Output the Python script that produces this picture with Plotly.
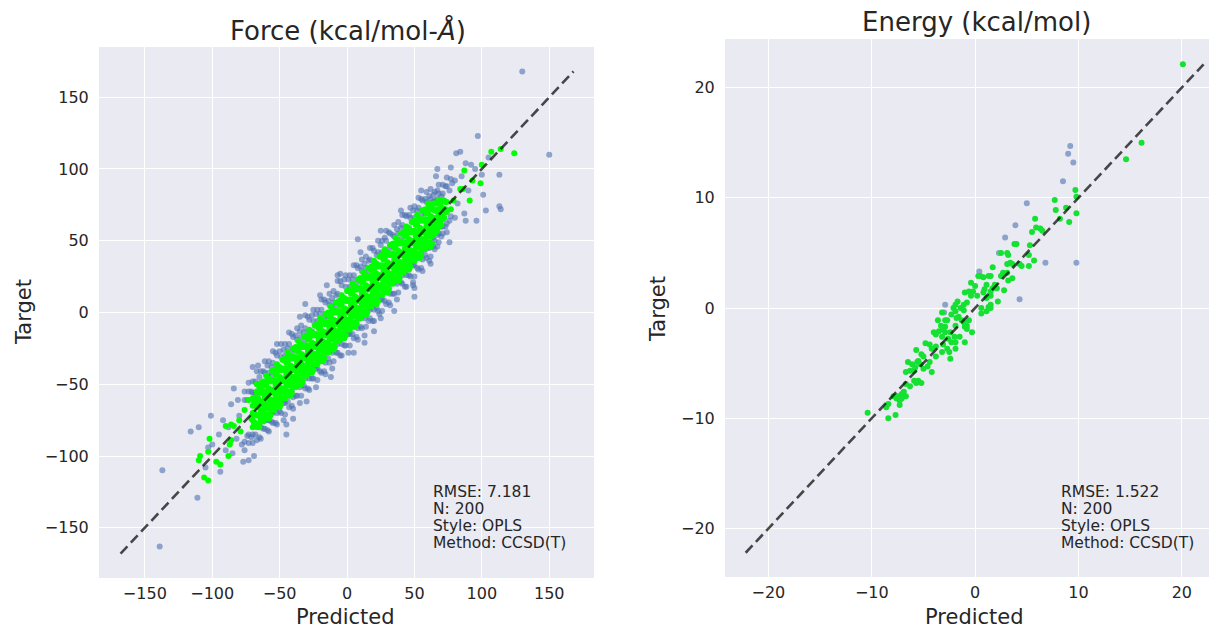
import plotly.graph_objects as go

# ---------------- Force panel data: (predicted, target) ----------------
force_blue = [
    (-76,-61),(-76,-55),(-76,-90),(-76,-96),(-73,-55),(-73,-49),(-73,-85),(-73,-91),
    (-70,-56),(-70,-48),(-70,-85),(-70,-91),(-67,-50),(-67,-41),(-67,-80),(-67,-89),
    (-64,-49),(-64,-41),(-64,-80),(-64,-88),(-61,-42),(-61,-34),(-61,-75),(-61,-81),
    (-58,-42),(-58,-34),(-58,-75),(-58,-83),(-55,-35),(-55,-27),(-55,-70),(-55,-77),
    (-52,-37),(-52,-30),(-52,-70),(-52,-78),(-49,-31),(-49,-22),(-49,-63),(-49,-70),
    (-46,-30),(-46,-22),(-46,-63),(-46,-71),(-43,-22),(-43,-14),(-43,-58),(-43,-66),
    (-40,-25),(-40,-17),(-40,-59),(-40,-67),(-37,-19),(-37,-11),(-37,-51),(-37,-58),
    (-34,-17),(-34,-9),(-34,-50),(-34,-58),(-31,-11),(-31,-2),(-31,-46),(-31,-53),
    (-28,-13),(-28,-5),(-28,-46),(-28,-54),(-25,-6),(-25,2),(-25,-39),(-25,-46),
    (-22,-6),(-22,2),(-22,-39),(-22,-47),(-19,2),(-19,9),(-19,-34),(-19,-42),
    (-16,-1),(-16,7),(-16,-35),(-16,-43),(-13,5),(-13,13),(-13,-27),(-13,-35),
    (-10,7),(-10,15),(-10,-26),(-10,-34),(-7,13),(-7,22),(-7,-22),(-7,-28),
    (-4,11),(-4,19),(-4,-22),(-4,-30),(-1,18),(-1,26),(-1,-15),(-1,-23),
    (2,18),(2,26),(2,-15),(2,-23),(5,26),(5,33),(5,-10),(5,-18),
    (8,23),(8,31),(8,-11),(8,-19),(11,29),(11,37),(11,-3),(11,-11),
    (14,31),(14,39),(14,-2),(14,-10),(17,37),(17,45),(17,2),(17,-4),
    (20,35),(20,43),(20,2),(20,-6),(23,42),(23,50),(23,9),(23,1),
    (26,42),(26,50),(26,9),(26,1),(29,50),(29,57),(29,14),(29,6),
    (32,47),(32,55),(32,13),(32,5),(35,53),(35,61),(35,21),(35,13),
    (38,55),(38,63),(38,22),(38,14),(41,61),(41,68),(41,26),(41,20),
    (44,59),(44,67),(44,26),(44,18),(47,66),(47,73),(47,33),(47,25),
    (50,66),(50,74),(50,33),(50,25),(53,73),(53,80),(53,38),(53,30),
    (56,71),(56,78),(56,37),(56,29),(59,77),(59,84),(59,45),(59,38),
    (62,79),(62,86),(62,46),(62,39),(65,84),(65,78),(65,50),(65,44),
    (68,83),(68,89),(68,55),(68,49),(71,89),(71,83),(71,55),(71,60),
    (74,88),(74,94),(74,62),(74,56),(77,93),(77,67),(80,92),(80,66),
    (-74,-61),(-74,-86),(-68,-57),(-68,-48),(-68,-79),(-68,-85),
    (-62,-49),(-62,-41),(-62,-74),(-62,-81),(-56,-44),(-56,-38),(-56,-69),(-56,-76),
    (-50,-39),(-50,-27),(-50,-61),(-50,-69),(-44,-31),(-44,-25),(-44,-56),(-44,-62),
    (-38,-26),(-38,-16),(-38,-51),(-38,-58),(-32,-21),(-32,-14),(-32,-43),(-32,-51),
    (-26,-13),(-26,-2),(-26,-38),(-26,-46),(-20,-8),(-20,-1),(-20,-33),(-20,-41),
    (-14,-3),(-14,8),(-14,-25),(-14,-32),(-8,5),(-8,12),(-8,-20),(-8,-28),
    (-2,10),(-2,23),(-2,-15),(-2,-23),(4,15),(4,23),(4,-7),(4,-15),
    (10,23),(10,32),(10,-2),(10,-10),(16,28),(16,36),(16,3),(16,-6),
    (22,33),(22,40),(22,11),(22,3),(28,41),(28,52),(28,16),(28,8),
    (34,46),(34,54),(34,21),(34,13),(40,51),(40,59),(40,29),(40,21),
    (46,59),(46,68),(46,34),(46,26),(52,64),(52,71),(52,39),(52,31),
    (58,69),(58,79),(58,47),(58,40),(64,77),(64,82),(64,52),(64,46),
    (70,81),(70,60),(70,53),(76,85),(76,64),
    (-71,-55),(-71,-87),(-65,-45),(-65,-52),(-65,-79),(-65,-87),
    (-59,-37),(-59,-45),(-59,-75),(-59,-82),(-53,-28),(-53,-40),(-53,-67),(-53,-77),
    (-47,-26),(-47,-33),(-47,-63),(-47,-75),(-41,-15),(-41,-28),(-41,-55),(-41,-65),
    (-35,-13),(-35,-21),(-35,-52),(-35,-63),(-29,-3),(-29,-16),(-29,-43),(-29,-53),
    (-23,-1),(-23,-9),(-23,-39),(-23,-52),(-17,9),(-17,-4),(-17,-31),(-17,-41),
    (-11,10),(-11,3),(-11,-28),(-11,-39),(-5,22),(-5,8),(-5,-19),(-5,-30),
    (1,23),(1,15),(1,-15),(1,-28),(7,33),(7,20),(7,-7),(7,-17),
    (13,34),(13,27),(13,-4),(13,-16),(19,45),(19,32),(19,5),(19,-6),
    (25,47),(25,39),(25,9),(25,-4),(31,56),(31,44),(31,17),(31,7),
    (37,58),(37,51),(37,20),(37,9),(43,68),(43,56),(43,29),(43,18),
    (49,71),(49,63),(49,33),(49,21),(55,79),(55,68),(55,41),(55,31),
    (61,81),(61,74),(61,45),(61,36),(67,85),(67,79),(67,54),(67,46),
    (73,88),(73,60),
    (-52,-22),(-35,-3),(-20,12),(-5,27),(10,42),(25,57),(40,71),(55,85),
    (-30,-62),(-12,-45),(5,-28),(20,-13),(35,1),(50,17),(62,34),(-45,-78),
    (130,168),(150,110),(97,123),(113,96),(113,74),(114,72),(103,71),(101,82),
    (96,64),(87,69),(88,64),(76,49),(92,103),(81,111),(84,112),(67,100),
    (77,101),(66,95),(-139,-163),(-137,-110),(-111,-129),(-116,-83),(-110,-80),
    (-103,-94),(-101,-72),(-94,-111),(-84,-53),(-81,-61),(-86,-64),(-77,-104),
    (-73,-103),(-69,-100),(-45,-85),(-40,-74),(-70,-38),(-66,-37),(8,51),
    (-7,26),(-15,19),(-31,6),(50,11),(49,19),(24,-1),(13,-21),
    (-100,-92),(-95,-85),(-90,-96),(-88,-80),(-82,-88),(-80,-72),(-78,-92),
    (85,95),(90,85),(95,100),(88,104),(82,76),(100,96),(105,108),(78,90),
    (-105,-108),(-92,-75),(-85,-98),
]

force_green = [
    (-70,-80),(-70,-75),(-70,-70),(-70,-65),(-70,-60),(-68,-77),(-68,-71),(-68,-65),(-68,-59),
    (-66,-78),(-66,-72),(-66,-66),(-66,-60),(-66,-55),(-64,-75),(-64,-68),(-64,-62),(-64,-56),(-64,-51),
    (-62,-76),(-62,-69),(-62,-62),(-62,-55),(-62,-48),(-60,-71),(-60,-64),(-60,-57),(-60,-50),(-60,-44),
    (-58,-74),(-58,-67),(-58,-60),(-58,-53),(-58,-46),(-56,-68),(-56,-61),(-56,-54),(-56,-47),(-56,-41),
    (-54,-68),(-54,-61),(-54,-54),(-54,-47),(-54,-40),(-52,-63),(-52,-56),(-52,-49),(-52,-42),(-52,-36),
    (-50,-66),(-50,-59),(-50,-52),(-50,-45),(-50,-38),(-48,-60),(-48,-53),(-48,-46),(-48,-39),(-48,-33),
    (-46,-60),(-46,-53),(-46,-46),(-46,-39),(-46,-32),(-44,-55),(-44,-48),(-44,-41),(-44,-34),(-44,-28),
    (-42,-58),(-42,-51),(-42,-44),(-42,-37),(-42,-30),(-40,-52),(-40,-45),(-40,-38),(-40,-31),(-40,-25),
    (-38,-52),(-38,-45),(-38,-38),(-38,-31),(-38,-24),(-36,-47),(-36,-40),(-36,-33),(-36,-26),(-36,-20),
    (-34,-50),(-34,-43),(-34,-36),(-34,-29),(-34,-22),(-32,-44),(-32,-37),(-32,-30),(-32,-23),(-32,-17),
    (-30,-44),(-30,-37),(-30,-30),(-30,-23),(-30,-16),(-28,-39),(-28,-32),(-28,-25),(-28,-18),(-28,-12),
    (-26,-42),(-26,-35),(-26,-28),(-26,-21),(-26,-14),(-24,-36),(-24,-29),(-24,-22),(-24,-15),(-24,-9),
    (-22,-36),(-22,-29),(-22,-22),(-22,-15),(-22,-8),(-20,-31),(-20,-24),(-20,-17),(-20,-10),(-20,-4),
    (-18,-34),(-18,-27),(-18,-20),(-18,-13),(-18,-6),(-16,-28),(-16,-21),(-16,-14),(-16,-7),(-16,-1),
    (-14,-28),(-14,-21),(-14,-14),(-14,-7),(-14,0),(-12,-23),(-12,-16),(-12,-9),(-12,-2),(-12,4),
    (-10,-26),(-10,-19),(-10,-12),(-10,-5),(-10,2),(-8,-20),(-8,-13),(-8,-6),(-8,1),(-8,7),
    (-6,-20),(-6,-13),(-6,-6),(-6,1),(-6,8),(-4,-15),(-4,-8),(-4,-1),(-4,6),(-4,12),
    (-2,-18),(-2,-11),(-2,-4),(-2,3),(-2,10),(0,-12),(0,-5),(0,2),(0,9),(0,15),
    (2,-12),(2,-5),(2,2),(2,9),(2,16),(4,-7),(4,0),(4,7),(4,14),(4,20),
    (6,-10),(6,-3),(6,4),(6,11),(6,18),(8,-4),(8,3),(8,10),(8,17),(8,23),
    (10,-4),(10,3),(10,10),(10,17),(10,24),(12,1),(12,8),(12,15),(12,22),(12,28),
    (14,-2),(14,5),(14,12),(14,19),(14,26),(16,4),(16,11),(16,18),(16,25),(16,31),
    (18,4),(18,11),(18,18),(18,25),(18,32),(20,9),(20,16),(20,23),(20,30),(20,36),
    (22,6),(22,13),(22,20),(22,27),(22,34),(24,12),(24,19),(24,26),(24,33),(24,39),
    (26,12),(26,19),(26,26),(26,33),(26,40),(28,17),(28,24),(28,31),(28,38),(28,44),
    (30,14),(30,21),(30,28),(30,35),(30,42),(32,20),(32,27),(32,34),(32,41),(32,47),
    (34,20),(34,27),(34,34),(34,41),(34,48),(36,25),(36,32),(36,39),(36,46),(36,52),
    (38,22),(38,29),(38,36),(38,43),(38,50),(40,28),(40,35),(40,42),(40,49),(40,55),
    (42,28),(42,35),(42,42),(42,49),(42,56),(44,33),(44,40),(44,47),(44,54),(44,60),
    (46,30),(46,37),(46,44),(46,51),(46,58),(48,36),(48,43),(48,50),(48,57),(48,63),
    (50,36),(50,43),(50,50),(50,57),(50,64),(52,41),(52,48),(52,55),(52,62),(52,68),
    (54,38),(54,45),(54,52),(54,59),(54,66),(56,44),(56,51),(56,58),(56,65),(56,71),
    (58,44),(58,51),(58,58),(58,65),(58,72),(60,49),(60,56),(60,63),(60,70),(60,76),
    (62,46),(62,53),(62,60),(62,67),(62,74),(64,54),(64,60),(64,66),(64,72),(64,76),
    (66,56),(66,61),(66,66),(66,71),(66,76),(68,60),(68,66),(68,72),(68,78),
    (70,61),(70,67),(70,73),(70,78),(72,66),(72,72),(72,78),(74,70),(74,77),
    (-69,-77),(-69,-70),(-69,-63),(-67,-79),(-67,-71),(-67,-63),(-67,-55),
    (-65,-80),(-65,-72),(-65,-64),(-65,-56),(-63,-72),(-63,-64),(-63,-56),(-63,-49),
    (-61,-74),(-61,-67),(-61,-59),(-61,-51),(-59,-71),(-59,-63),(-59,-55),(-59,-47),
    (-57,-72),(-57,-64),(-57,-56),(-57,-48),(-55,-64),(-55,-56),(-55,-48),(-55,-41),
    (-53,-66),(-53,-59),(-53,-51),(-53,-43),(-51,-63),(-51,-55),(-51,-47),(-51,-39),
    (-49,-64),(-49,-56),(-49,-48),(-49,-40),(-47,-56),(-47,-48),(-47,-40),(-47,-33),
    (-45,-58),(-45,-51),(-45,-43),(-45,-35),(-43,-55),(-43,-47),(-43,-39),(-43,-31),
    (-41,-56),(-41,-48),(-41,-40),(-41,-32),(-39,-48),(-39,-40),(-39,-32),(-39,-25),
    (-37,-50),(-37,-43),(-37,-35),(-37,-27),(-35,-47),(-35,-39),(-35,-31),(-35,-23),
    (-33,-48),(-33,-40),(-33,-32),(-33,-24),(-31,-40),(-31,-32),(-31,-24),(-31,-17),
    (-29,-42),(-29,-35),(-29,-27),(-29,-19),(-27,-39),(-27,-31),(-27,-23),(-27,-15),
    (-25,-40),(-25,-32),(-25,-24),(-25,-16),(-23,-32),(-23,-24),(-23,-16),(-23,-9),
    (-21,-34),(-21,-27),(-21,-19),(-21,-11),(-19,-31),(-19,-23),(-19,-15),(-19,-7),
    (-17,-32),(-17,-24),(-17,-16),(-17,-8),(-15,-24),(-15,-16),(-15,-8),(-15,-1),
    (-13,-26),(-13,-19),(-13,-11),(-13,-3),(-11,-23),(-11,-15),(-11,-7),(-11,1),
    (-9,-24),(-9,-16),(-9,-8),(-9,0),(-7,-16),(-7,-8),(-7,0),(-7,7),
    (-5,-18),(-5,-11),(-5,-3),(-5,5),(-3,-15),(-3,-7),(-3,1),(-3,9),
    (-1,-16),(-1,-8),(-1,0),(-1,8),(1,-8),(1,0),(1,8),(1,15),
    (3,-10),(3,-3),(3,5),(3,13),(5,-7),(5,1),(5,9),(5,17),
    (7,-8),(7,0),(7,8),(7,16),(9,0),(9,8),(9,16),(9,23),
    (11,-2),(11,5),(11,13),(11,21),(13,1),(13,9),(13,17),(13,25),
    (15,0),(15,8),(15,16),(15,24),(17,8),(17,16),(17,24),(17,31),
    (19,6),(19,13),(19,21),(19,29),(21,9),(21,17),(21,25),(21,33),
    (23,8),(23,16),(23,24),(23,32),(25,16),(25,24),(25,32),(25,39),
    (27,14),(27,21),(27,29),(27,37),(29,17),(29,25),(29,33),(29,41),
    (31,16),(31,24),(31,32),(31,40),(33,24),(33,32),(33,40),(33,47),
    (35,22),(35,29),(35,37),(35,45),(37,25),(37,33),(37,41),(37,49),
    (39,24),(39,32),(39,40),(39,48),(41,32),(41,40),(41,48),(41,55),
    (43,30),(43,37),(43,45),(43,53),(45,33),(45,41),(45,49),(45,57),
    (47,32),(47,40),(47,48),(47,56),(49,40),(49,48),(49,56),(49,63),
    (51,38),(51,45),(51,53),(51,61),(53,41),(53,49),(53,57),(53,65),
    (55,40),(55,48),(55,56),(55,64),(57,48),(57,56),(57,64),(57,71),
    (59,46),(59,53),(59,61),(59,69),(61,49),(61,57),(61,65),(61,73),
    (63,48),(63,56),(63,64),(63,72),(65,57),(65,64),(65,71),(65,76),
    (67,58),(67,64),(67,70),(67,76),(69,62),(69,69),(69,76),
    (71,65),(71,72),(71,78),(73,70),(73,77),
    (124,111),(114,114),(107,112),(100,103),(93,92),(99,90),(87,99),(84,86),(86,86),
    (79,78),(91,78),(77,72),(73,72),(69,76),
    (-106,-115),(-103,-117),(-109,-100),(-110,-103),(-103,-97),(-102,-88),(-97,-104),
    (-94,-106),(-87,-92),(-86,-89),(-88,-100),(-84,-79),(-80,-75),(-90,-79),(-86,-78),
    (-79,-83),(-76,-68),(-73,-61),(-71,-74),(-69,-71),(-67,-50),(-64,-54),
]
force_line = [-168, 168]

# ---------------- Energy panel data: (predicted, target) ----------------
energy_blue = [
    (9.2,14.7),(9.0,14.0),(9.5,13.2),(8.5,11.5),(5.0,9.5),(3.9,7.5),(2.9,6.4),
    (2.3,5.0),(6.8,4.1),(9.8,4.1),(4.3,0.8),(0.4,3.3),(-2.9,0.3),(-3.0,-0.4),
]
energy_green = [
    (20.1,22.1),(16.1,15.0),(14.6,13.5),(9.7,10.7),(9.8,10.1),(7.7,9.8),(7.8,8.9),
    (8.8,9.1),(9.8,8.6),(8.2,8.1),(9.1,7.8),(5.8,8.1),(5.5,6.9),(5.9,7.3),(6.3,7.2),
    (6.5,7.0),(5.3,5.7),(3.8,5.8),(4.0,5.8),(5.2,4.8),(5.7,4.3),(5.2,3.8),(4.3,4.0),
    (4.5,3.8),(2.5,5.0),(3.1,5.0),(3.2,4.8),(3.4,4.1),(3.1,4.0),(3.6,4.0),(2.7,3.2),
    (2.5,2.9),(3.1,3.2),(3.6,2.7),(3.2,2.5),(1.7,3.7),(1.3,2.9),(1.5,2.9),(0.8,2.8),
    (0.3,2.9),(0.5,2.9),(1.1,2.1),(0.9,1.7),(1.7,1.8),(1.5,1.5),(2.8,1.6),(2.2,0.6),
    (1.3,0.1),(1.5,0.0),(1.1,-0.3),(0.6,-0.5),(-0.4,2.3),(0.0,2.0),(-0.2,1.5),(0.2,1.1),
    (-1.0,1.4),(-0.6,1.5),(-0.4,1.1),(-1.7,0.6),(-0.8,0.5),(-1.1,0.3),(-0.3,-2.2),
    (-1.0,-3.1),(-2.1,0.0),(-1.9,-0.3),(-1.6,-0.8),(-1.8,-0.9),(-1.3,-1.1),(-1.1,-1.3),
    (-1.0,-1.7),(-0.8,-1.9),(-2.3,-0.6),(-1.9,-1.6),(-2.9,-1.1),(-2.7,-1.1),(-3.2,-0.4),
    (-2.9,-1.7),(-3.1,-1.9),(-3.5,-2.1),(-3.2,-2.6),(-3.8,-2.4),(-4.0,-2.2),(-2.9,-2.2),
    (-2.4,-2.2),(-2.6,-2.8),(-2.3,-3.1),(-1.9,-3.1),(-2.0,-2.6),(-3.1,-3.3),(-2.7,-3.7),
    (-2.5,-4.0),(-2.4,-4.6),(-3.2,-4.0),(-4.4,-3.3),(-4.2,-3.7),(-3.8,-3.5),(-4.8,-3.2),
    (-3.8,-4.4),(-5.2,-4.2),(-5.0,-4.4),(-5.7,-3.8),(-5.5,-4.8),(-5.6,-4.9),(-5.3,-5.1),
    (-5.0,-5.5),(-4.6,-5.3),(-4.4,-4.9),(-4.2,-5.8),(-6.5,-4.9),(-6.1,-5.1),(-6.7,-5.8),
    (-6.3,-5.7),(-5.9,-6.6),(-5.5,-6.6),(-5.2,-6.8),(-5.7,-6.8),(-6.7,-6.9),(-5.9,-5.7),
    (-5.8,-5.4),(-7.1,-7.8),(-6.9,-7.6),(-7.4,-8.0),(-7.6,-8.2),(-7.3,-8.4),(-7.1,-8.2),
    (-6.7,-8.0),(-7.3,-8.8),(-6.3,-7.1),(-8.6,-9.0),(-8.4,-8.7),(-8.4,-10.0),(-7.7,-9.7),
    (-10.4,-9.5),(-7.9,-8.0),(0.8,1.4),(1.5,1.1),(2.1,1.8),(1.9,2.1),(1.1,0.9),(1.5,0.3),
    (0.6,0.0),(-1.4,0.0),(-1.1,-0.2),(-1.9,0.3),(-0.6,-1.1),(-0.8,-1.6),(-1.5,-2.6),
    (-1.9,-3.7),(-3.6,-1.1),(-3.3,-1.6),
]
energy_line = [-22.2, 22.1]

force_ticks = [-150, -100, -50, 0, 50, 100, 150]
energy_ticks = [-20, -10, 0, 10, 20]
force_stats = ["RMSE: 7.181", "N: 200", "Style: OPLS", "Method: CCSD(T)"]
energy_stats = ["RMSE: 1.522", "N: 200", "Style: OPLS", "Method: CCSD(T)"]

FONT = "DejaVu Sans"
TXT = "#262626"
BLUE = "#4C72B0"
GREEN_F = "#00FF00"
GREEN_E = "#14E132"

# The page body has an 8px margin, so the figure is sized to fill the rest of the window.
OFF = 8
W, H = 1217 - OFF, 630 - OFF

def px(x):
    return (x - OFF) / W

def py(y):
    return 1 - (y - OFF) / H

fig = go.Figure()

def xs(pts):
    return [p[0] for p in pts]

def ys(pts):
    return [p[1] for p in pts]

# Force panel
fig.add_trace(go.Scatter(x=xs(force_blue), y=ys(force_blue), mode="markers",
                         marker=dict(color=BLUE, size=6, opacity=0.6, line=dict(width=0)),
                         xaxis="x", yaxis="y", showlegend=False, hoverinfo="skip"))
fig.add_trace(go.Scatter(x=xs(force_green), y=ys(force_green), mode="markers",
                         marker=dict(color=GREEN_F, size=6, opacity=1.0, line=dict(width=0)),
                         xaxis="x", yaxis="y", showlegend=False, hoverinfo="skip"))
fig.add_trace(go.Scatter(x=force_line, y=force_line, mode="lines",
                         line=dict(color="rgba(0,0,0,0.7)", width=2.6, dash="10px,5px"),
                         xaxis="x", yaxis="y", showlegend=False, hoverinfo="skip"))

# Energy panel
fig.add_trace(go.Scatter(x=xs(energy_blue), y=ys(energy_blue), mode="markers",
                         marker=dict(color=BLUE, size=6, opacity=0.6, line=dict(width=0)),
                         xaxis="x2", yaxis="y2", showlegend=False, hoverinfo="skip"))
fig.add_trace(go.Scatter(x=xs(energy_green), y=ys(energy_green), mode="markers",
                         marker=dict(color=GREEN_E, size=6, opacity=1.0, line=dict(width=0)),
                         xaxis="x2", yaxis="y2", showlegend=False, hoverinfo="skip"))
fig.add_trace(go.Scatter(x=energy_line, y=energy_line, mode="lines",
                         line=dict(color="rgba(0,0,0,0.7)", width=2.6, dash="10px,5px"),
                         xaxis="x2", yaxis="y2", showlegend=False, hoverinfo="skip"))

# plot-area edges in window pixels
L_x0, L_x1, L_top, L_bot = 99, 594, 47, 578
R_x0, R_x1, R_top, R_bot = 725, 1217, 39, 577

base = dict(showgrid=True, gridcolor="white", gridwidth=1.3, zeroline=False,
            showline=False, ticks="outside", tickcolor="rgba(0,0,0,0)",
            tickfont=dict(family=FONT, size=16, color=TXT))
xax = dict(base, ticklen=1)
yax = dict(base, ticklen=6)

fig.update_layout(
    width=W, height=H,
    margin=dict(l=0, r=0, t=0, b=0),
    paper_bgcolor="white",
    plot_bgcolor="#EAEAF2",
    xaxis=dict(domain=[px(L_x0), px(L_x1)], range=[-184, 183.2], tickvals=force_ticks,
               anchor="y", **xax),
    yaxis=dict(domain=[py(L_bot), py(L_top)], range=[-185, 185], tickvals=force_ticks,
               anchor="x", **yax),
    xaxis2=dict(domain=[px(R_x0), min(1.0, px(R_x1))], range=[-24.2, 23.4], tickvals=energy_ticks,
                anchor="y2", **xax),
    yaxis2=dict(domain=[py(R_bot), py(R_top)], range=[-24.4, 24.4], tickvals=energy_ticks,
                anchor="x2", **yax),
)

ann = []
def add_text(x, y, text, size, xanchor="center", yanchor="middle", angle=0):
    ann.append(dict(x=px(x), y=py(y), xref="paper", yref="paper", text=text,
                    showarrow=False, xanchor=xanchor, yanchor=yanchor, textangle=angle,
                    font=dict(family=FONT, size=size, color=TXT)))

add_text(348, 31, "Force (kcal/mol-<i>Å</i>)", 26)
add_text(976, 22, "Energy (kcal/mol)", 26)
add_text(346, 617, "Predicted", 21)
add_text(974, 617, "Predicted", 21)
add_text(24, 312, "Target", 21, angle=-90)
add_text(658, 309, "Target", 21, angle=-90)

for i, line in enumerate(force_stats):
    add_text(431, 492 + 17 * i, line, 15.5, xanchor="left")
for i, line in enumerate(energy_stats):
    add_text(1059, 492 + 17 * i, line, 15.5, xanchor="left")

fig.update_layout(annotations=ann)

fig.write_html("out.html")
